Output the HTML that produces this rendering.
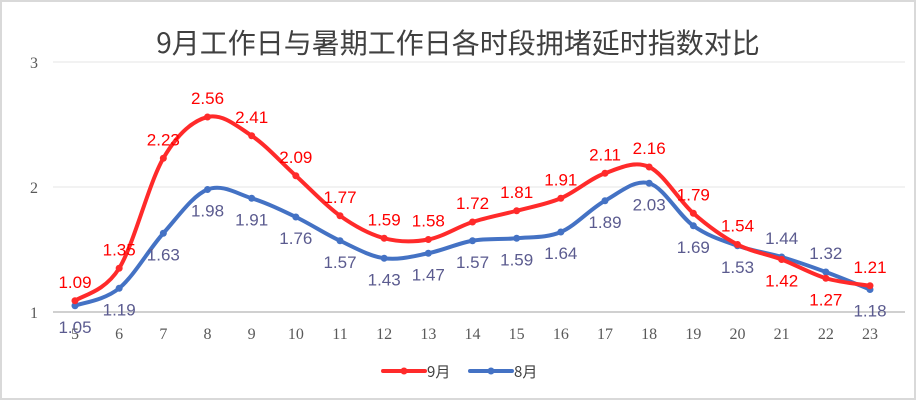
<!DOCTYPE html>
<html><head><meta charset="utf-8"><style>
body{margin:0;background:#fff}
svg{display:block;font-family:"Liberation Sans","Noto Sans CJK SC",sans-serif}
</style></head><body>
<svg id="c" width="916" height="400">
<rect x="1" y="1" width="914" height="398" fill="#fff" stroke="#d9d9d9" stroke-width="2"/>
<text x="458" y="53" text-anchor="middle" font-size="28" fill="#404040" font-family="'Noto Sans CJK SC',sans-serif">9月工作日与暑期工作日各时段拥堵延时指数对比</text>
<g id="grid"></g><g id="series"></g><g id="labels"></g>
<g>
<g><line x1="383" y1="371" x2="425" y2="371" stroke="#ff2a2a" stroke-width="4" stroke-linecap="round"/><circle cx="404" cy="371" r="3.5" fill="#ff2a2a"/><text x="427" y="377" font-size="15" fill="#404040" font-family="'Noto Sans CJK SC',sans-serif">9月</text></g>
<g><line x1="470" y1="371" x2="512" y2="371" stroke="#4472c4" stroke-width="4" stroke-linecap="round"/><circle cx="491" cy="371" r="3.5" fill="#4472c4"/><text x="514" y="377" font-size="15" fill="#404040" font-family="'Noto Sans CJK SC',sans-serif">8月</text></g>
</g>
</svg>
<script>
const categories=[5,6,7,8,9,10,11,12,13,14,15,16,17,18,19,20,21,22,23];
const sepValues=[1.09,1.35,2.23,2.56,2.41,2.09,1.77,1.59,1.58,1.72,1.81,1.91,2.11,2.16,1.79,1.54,1.42,1.27,1.21];
const augValues=[1.05,1.19,1.63,1.98,1.91,1.76,1.57,1.43,1.47,1.57,1.59,1.64,1.89,2.03,1.69,1.53,1.44,1.32,1.18];
const yTicks=[1,2,3];
const NS="http://www.w3.org/2000/svg";
const x0=75,x1=870,yBase=312,yPx=125;
const xs=i=>x0+i*(x1-x0)/(categories.length-1);
const ys=v=>yBase-(v-1)*yPx;
function mk(t,a,p){const e=document.createElementNS(NS,t);for(const k in a)e.setAttribute(k,a[k]);p.appendChild(e);return e;}
const grid=document.getElementById('grid');
yTicks.forEach(t=>{
 const l=mk('line',{x1:53,x2:905,y1:ys(t),y2:ys(t),stroke:t===1?'#d0d0d0':'#e6e6e6','stroke-width':t===1?2:1},grid);
 
 
 const tx=mk('text',{x:34,y:ys(t)+6,'text-anchor':'middle','font-size':16,fill:'#595959','font-family':'Liberation Serif,serif'},grid);
 tx.textContent=t;
 
 
});
categories.forEach((c,i)=>{
 const tx=mk('text',{x:xs(i),y:339,'text-anchor':'middle','font-size':16,fill:'#595959','font-family':'Liberation Serif,serif'},grid);
 tx.textContent=c;
 
 
});
function path(vals){
 const p=vals.map((v,i)=>[xs(i),ys(v)]);
 let d='M'+p[0][0]+','+p[0][1];
 for(let i=0;i<p.length-1;i++){
  const a=p[Math.max(i-1,0)],b=p[i],c=p[i+1],e=p[Math.min(i+2,p.length-1)];
  const t=1/6;
  d+=' C'+(b[0]+(c[0]-a[0])*t)+','+(b[1]+(c[1]-a[1])*t)+' '+(c[0]-(e[0]-b[0])*t)+','+(c[1]-(e[1]-b[1])*t)+' '+c[0]+','+c[1];
 }
 return d;
}
const sg=document.getElementById('series'),lg=document.getElementById('labels');
function draw(vals,color,name,lblColor,above,other){
 const pth=mk('path',{d:path(vals),fill:'none',stroke:color,'stroke-width':4,'stroke-linecap':'round'},sg);
 
 
 vals.forEach((v,i)=>{
  const c=mk('circle',{cx:xs(i),cy:ys(v),r:3.5,fill:color},sg);
  
  
  let up=above? vals[i]>=other[i] : vals[i]>other[i];
  const t=mk('text',{x:xs(i),y:up?ys(v)-13:ys(v)+27,'text-anchor':'middle','font-size':17,fill:lblColor},lg);
  t.textContent=v.toFixed(2);
  
  
 });
}
draw(augValues,'#4472c4','aug','#5b5b8f',false,sepValues);
draw(sepValues,'#ff2a2a','sep','#ff0000',true,augValues);
</script>
</body></html>
